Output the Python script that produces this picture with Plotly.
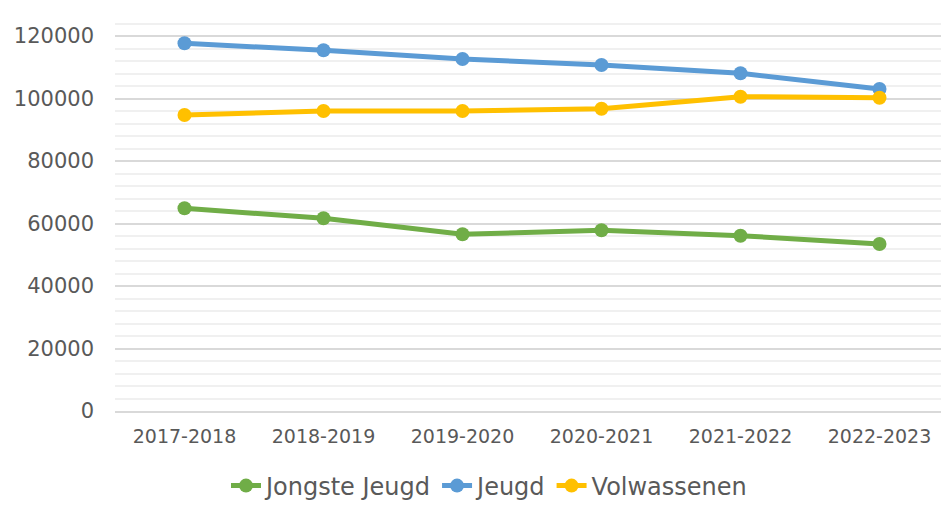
import plotly.graph_objects as go

categories = ["2017-2018", "2018-2019", "2019-2020", "2020-2021", "2021-2022", "2022-2023"]
jongste_jeugd = [64860, 61660, 56540, 57820, 56100, 53440]
jeugd = [117660, 115420, 112640, 110720, 108060, 103040]
volwassenen = [94720, 96000, 96000, 96740, 100580, 100260]

series = [
    ("Jongste Jeugd", jongste_jeugd, "#70ad47"),
    ("Jeugd", jeugd, "#5b9bd5"),
    ("Volwassenen", volwassenen, "#ffc000"),
]

fig = go.Figure()
for name, vals, color in series:
    fig.add_trace(go.Scatter(
        x=categories, y=vals, name=name, mode="lines+markers",
        line=dict(color=color, width=5),
        marker=dict(color=color, size=14),
    ))

W, H = 941, 497  # page body has an 8px margin
fig.update_layout(
    width=W, height=H,
    margin=dict(l=107, r=0, t=3, b=94),
    paper_bgcolor="white", plot_bgcolor="white",
    font=dict(family="DejaVu Sans, Verdana, sans-serif", color="#595959"),
    showlegend=True,
    legend=dict(orientation="h", xref="container", yref="container",
                x=481 / W, xanchor="center", y=1 - 478 / H, yanchor="middle",
                font=dict(size=24, color="#595959"), itemwidth=30, tracegroupgap=0),
    hovermode=False,
)
fig.update_xaxes(
    type="category", range=[-0.5, 5.5], showgrid=False, zeroline=False,
    showline=True, linecolor="#d9d9d9", linewidth=2, automargin=False,
    tickfont=dict(size=19, color="#595959"), ticks="", ticklabelstandoff=7,
)
fig.update_yaxes(
    range=[0, 128000], dtick=20000, showgrid=True, gridcolor="#d9d9d9", gridwidth=2,
    zeroline=False, showline=False, tickformat="d", automargin=False,
    tickfont=dict(size=21, color="#595959"), ticks="", ticklabelstandoff=20,
    minor=dict(dtick=4000, showgrid=True, gridcolor="#f0f0f0", gridwidth=2),
)

fig.write_html("out.html")
